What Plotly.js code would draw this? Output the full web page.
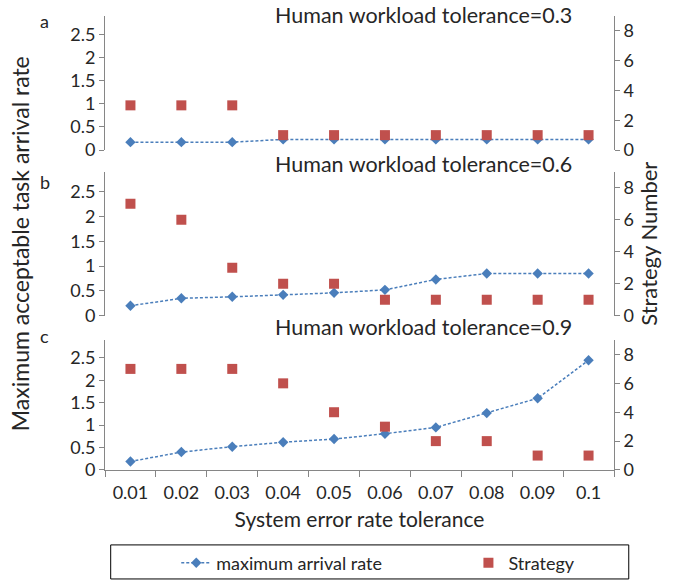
<!DOCTYPE html>
<html>
<head>
<meta charset="utf-8">
<script src="https://cdn.plot.ly/plotly-3.0.1.min.js"></script>
<style>html,body{margin:0;padding:0;background:#fff}</style>
</head>
<body>
<div id="chart" style="width:681px;height:582px"></div>
<script>
// ---- data ----
const errorTolerance = ["0.01","0.02","0.03","0.04","0.05","0.06","0.07","0.08","0.09","0.1"];
const panelTitles = ["Human workload tolerance=0.3","Human workload tolerance=0.6","Human workload tolerance=0.9"];
const panelLetters = ["a","b","c"];
// maximum acceptable task arrival rate (left axis)
const arrivalA = [0.17,0.17,0.17,0.23,0.23,0.23,0.23,0.23,0.23,0.23];
const arrivalB = [0.20,0.35,0.38,0.42,0.46,0.52,0.73,0.85,0.85,0.85];
const arrivalC = [0.19,0.40,0.52,0.62,0.69,0.81,0.95,1.27,1.60,2.45];
// strategy number (right axis)
const strategyA = [3,3,3,1,1,1,1,1,1,1];
const strategyB = [7,6,3,2,2,1,1,1,1,1];
const strategyC = [7,7,7,6,4,3,2,2,1,1];
const seriesNames = ["maximum arrival rate","Strategy"];

const FONT = "Lato, 'Open Sans', sans-serif";
const BLUE = "#4A7EBB", RED = "#C0504D", AX = "#868686", TXT = "#262626";

function lineTrace(y, xa, ya, show) {
  return {x: errorTolerance, y: y, xaxis: xa, yaxis: ya, type: "scatter", mode: "lines+markers",
    name: seriesNames[0], legendgroup: "a", showlegend: show, legend: "legend",
    line: {color: BLUE, width: 1.5, dash: "3px,2px"},
    marker: {symbol: "diamond", size: 8, color: BLUE}};
}
function stratTrace(y, xa, ya, show) {
  return {x: errorTolerance, y: y, xaxis: xa, yaxis: ya, type: "scatter", mode: "markers",
    name: seriesNames[1], legendgroup: "b", showlegend: show, legend: "legend2",
    marker: {symbol: "square", size: 10, color: RED}};
}
const data = [
  lineTrace(arrivalA, "x3", "y", false), stratTrace(strategyA, "x3", "y2", false),
  lineTrace(arrivalB, "x2", "y3", false), stratTrace(strategyB, "x2", "y4", false),
  lineTrace(arrivalC, "x", "y5", true), stratTrace(strategyC, "x", "y6", true)
];

const tickF = {family: FONT, size: 18, color: TXT};
function leftAx(dom, anchor, extra) {
  return Object.assign({domain: dom, anchor: anchor, range: [0, 2.9], dtick: 0.5, tick0: 0,
    showgrid: false, zeroline: false, showline: true, linecolor: AX, linewidth: 1,
    ticks: "outside", ticklen: 5, tickcolor: AX, tickfont: tickF}, extra || {});
}
function rightAx(over, anchor, extra) {
  return Object.assign({overlaying: over, anchor: anchor, side: "right", range: [0, 9], dtick: 2, tick0: 0,
    showgrid: false, zeroline: false, showline: true, linecolor: AX, linewidth: 1,
    ticks: "outside", ticklen: 5, tickcolor: AX, tickfont: tickF}, extra || {});
}
function hiddenX(anchor) {
  return {anchor: anchor, domain: [0, 1], type: "category", range: [-0.5, 9.5],
    showline: false, showticklabels: false, ticks: "", showgrid: false, zeroline: false};
}

const domA = [0.7048, 1.0], domB = [0.3399, 0.657], domC = [0, 0.2863];

const layout = {
  width: 681, height: 582,
  margin: {l: 105, r: 67, t: 16, b: 112, autoexpand: false},
  paper_bgcolor: "#fff", plot_bgcolor: "rgba(0,0,0,0)",
  font: {family: FONT, color: TXT},
  showlegend: true,
  xaxis: {anchor: "y5", domain: [0, 1], type: "category", range: [-0.5, 9.5],
    showline: true, linecolor: AX, linewidth: 1, ticks: "outside", tickson: "boundaries",
    ticklen: 6, tickcolor: AX, tickfont: tickF, ticklabelstandoff: 6, showgrid: false, zeroline: false,
    title: {text: "System error rate tolerance", font: {family: FONT, size: 21, color: TXT}, standoff: 10}},
  xaxis2: hiddenX("y3"),
  xaxis3: hiddenX("y"),
  yaxis: leftAx(domA, "x3"),
  yaxis2: rightAx("y", "x3"),
  yaxis3: leftAx(domB, "x2", {title: {text: "Maximum acceptable task arrival rate",
    font: {family: FONT, size: 23, color: TXT}, standoff: 34}}),
  yaxis4: rightAx("y3", "x2", {title: {text: "Strategy Number",
    font: {family: FONT, size: 22, color: TXT}, standoff: 8}}),
  yaxis5: leftAx(domC, "x"),
  yaxis6: rightAx("y5", "x"),
  legend: {orientation: "h", x: 0.14, xanchor: "left", y: -0.205, yanchor: "middle",
    bgcolor: "rgba(0,0,0,0)", borderwidth: 0, font: {family: FONT, size: 18, color: TXT}},
  legend2: {orientation: "h", x: 0.714, xanchor: "left", y: -0.205, yanchor: "middle",
    bgcolor: "rgba(0,0,0,0)", borderwidth: 0, font: {family: FONT, size: 18, color: TXT}},
  shapes: [{type: "rect", xref: "paper", yref: "paper", x0: 0.0112, x1: 1.029, y0: -0.240, y1: -0.165,
    line: {color: "#000", width: 1}, fillcolor: "rgba(0,0,0,0)"}],
  annotations: []
};

const titleY = [1.002, 0.673, 0.314];
const letterY = [0.99, 0.635, 0.295];
for (let i = 0; i < 3; i++) {
  layout.annotations.push({xref: "paper", yref: "paper", x: 0.626, y: titleY[i], xanchor: "center", yanchor: "middle",
    text: panelTitles[i], showarrow: false, font: {family: FONT, size: 21.5, color: TXT}});
  layout.annotations.push({xref: "paper", yref: "paper", x: -0.118, y: letterY[i], xanchor: "center", yanchor: "middle",
    text: panelLetters[i], showarrow: false, font: {family: FONT, size: 18, color: TXT}});
}

Plotly.newPlot("chart", data, layout, {displayModeBar: false, staticPlot: true});
</script>
</body>
</html>
